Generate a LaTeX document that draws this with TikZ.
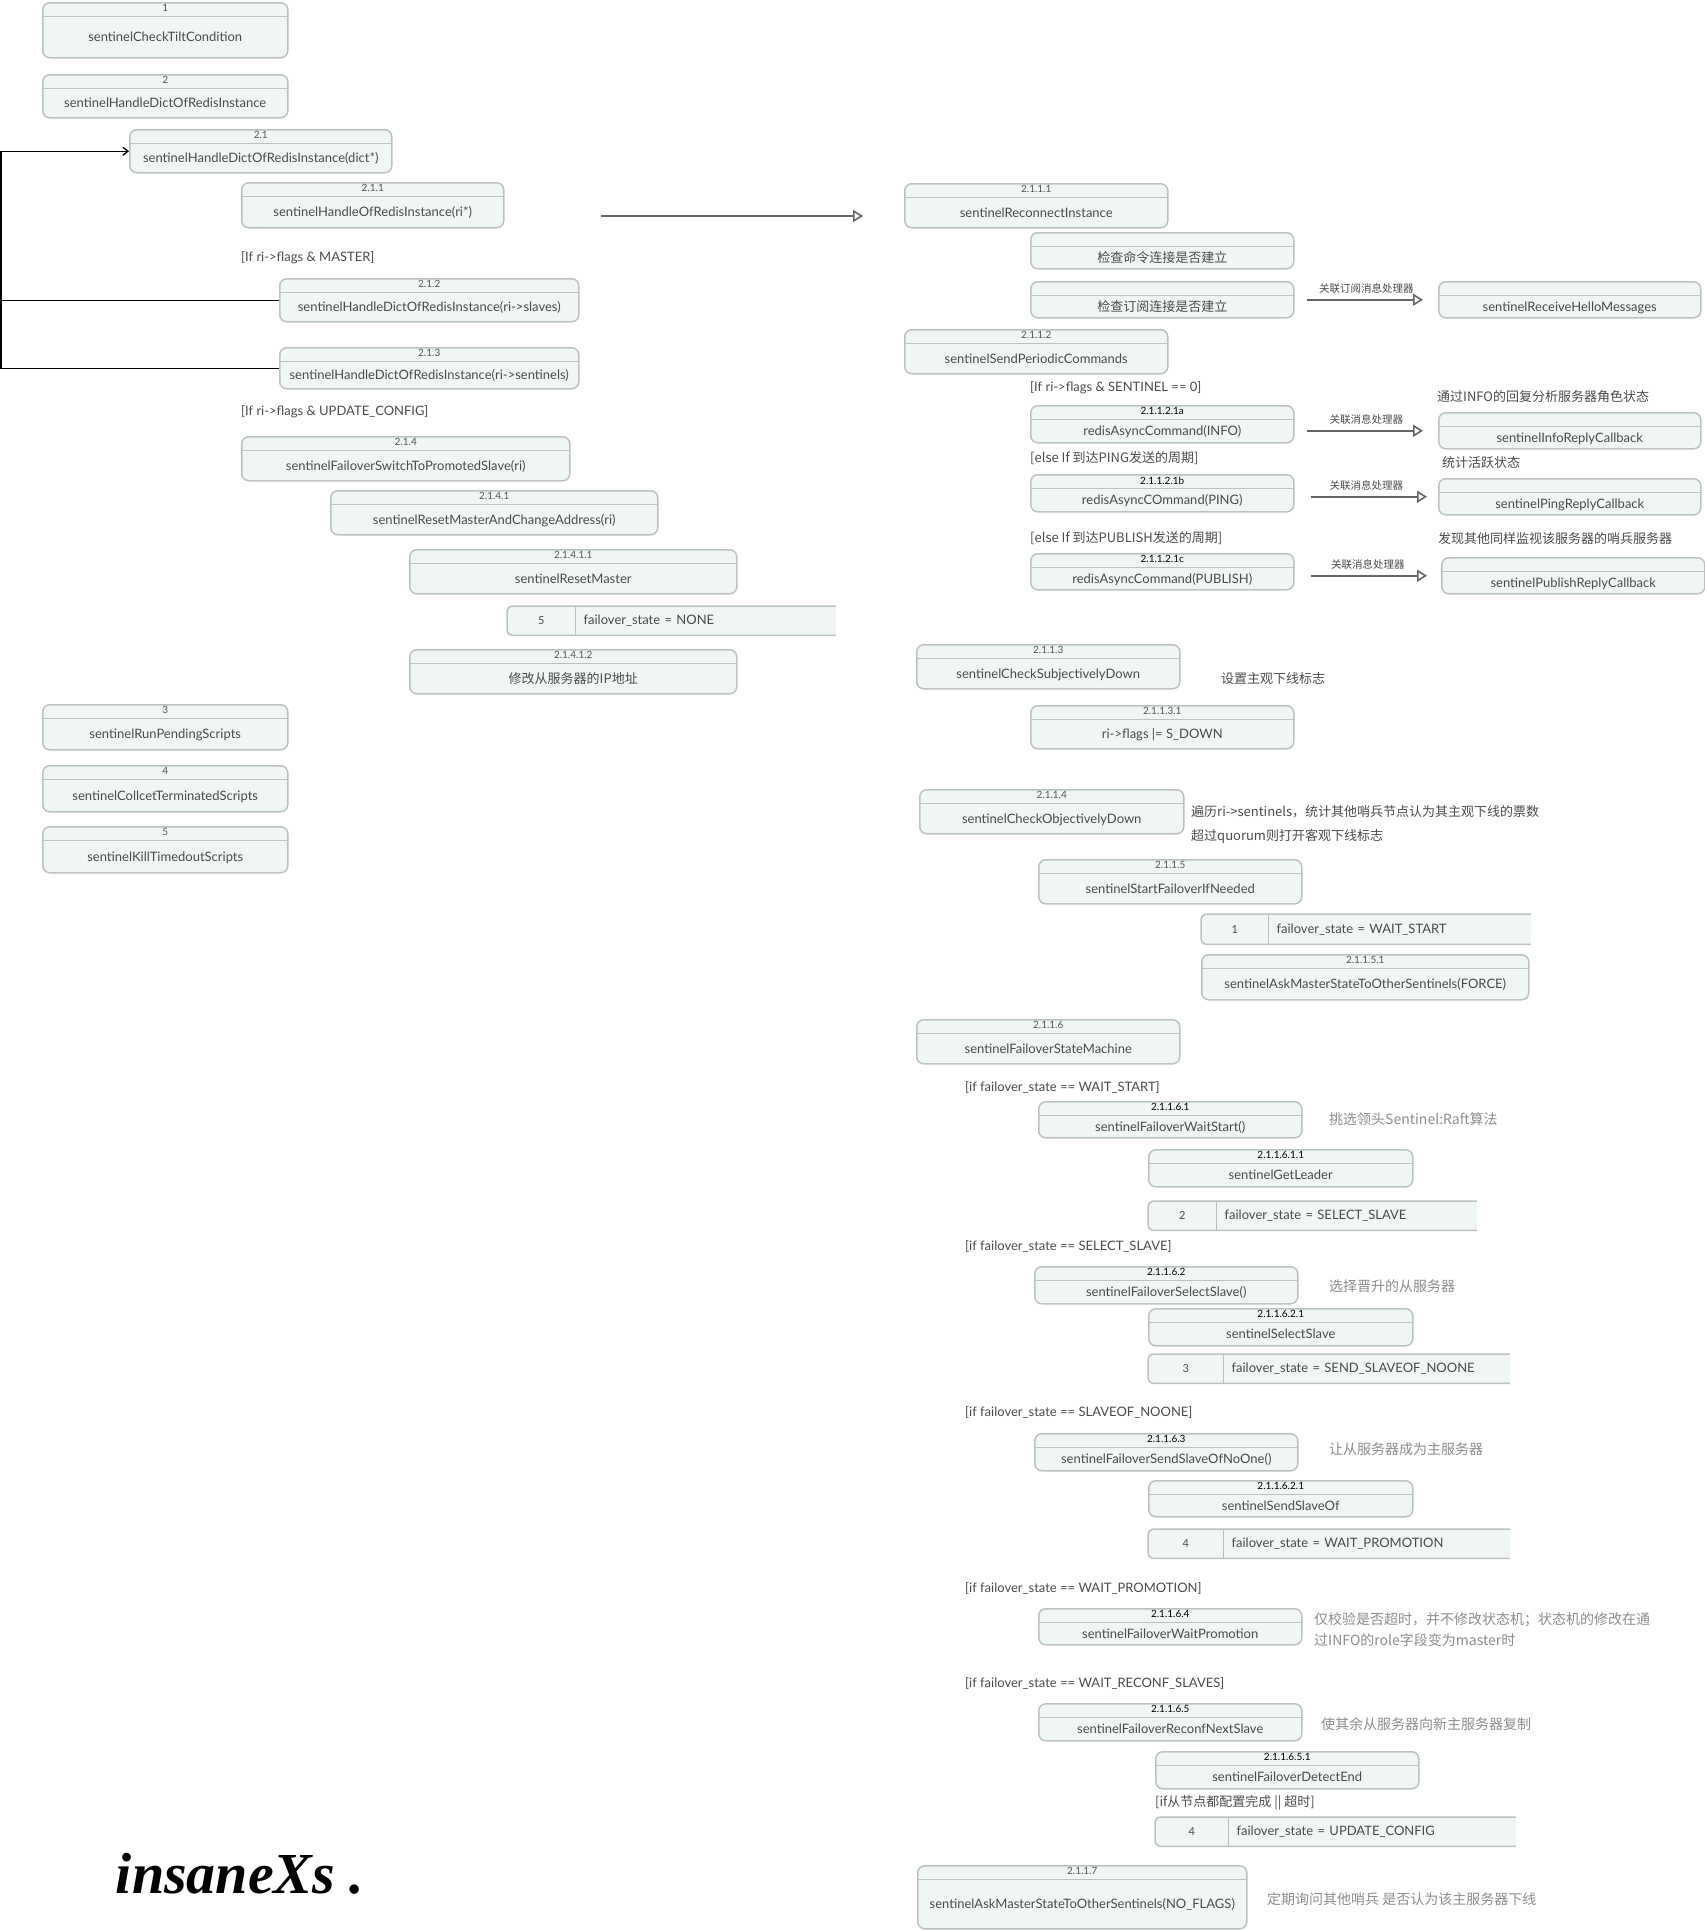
\documentclass[tikz,border=0pt]{standalone}
\usepackage{fontspec}
\setmainfont{Lato}
\newfontfamily\cjk{Noto Sans CJK SC}
\newfontfamily\sigfont{Liberation Serif}
\usepackage{xcolor}
\usetikzlibrary{arrows.meta,positioning}

\definecolor{boxfill}{HTML}{F0F6F6}
\definecolor{boxline}{HTML}{BCC2C2}
\definecolor{txtgray}{HTML}{4A4A4A}
\definecolor{numgray}{HTML}{555555}
\definecolor{notegray}{HTML}{8C8C8C}
\definecolor{arrowgray}{HTML}{666666}

\begin{document}
\begin{tikzpicture}[x=1pt, y=-1pt]
\tikzset{
  callbox/.style={draw=boxline, fill=boxfill, line width=1.5pt, rounded corners=7pt, anchor=north west, inner sep=0pt, text height=23pt, text depth=0pt, font=\fontsize{13}{15}\selectfont, text=txtgray, path picture={\draw[boxline, line width=1.5pt] ([yshift=-13.5pt]path picture bounding box.north west) -- ([yshift=-13.5pt]path picture bounding box.north east);}},
  boxsize/.style 2 args={minimum width=#1pt, minimum height=#2pt},
  numtext/.style={anchor=north, inner sep=0pt, yshift=-2.5pt, font=\fontsize{10}{11}\selectfont, text=numgray},
  numdark/.style={numtext, text=black},
  statenum/.style={anchor=north west, inner sep=0pt, fill=boxfill, font=\fontsize{11}{13}\selectfont, text=txtgray},
  statetxt/.style={inner sep=0pt, inner xsep=8pt, align=left, fill=boxfill, font=\fontsize{13}{15}\selectfont, text=txtgray},
  stateedge/.style={draw=boxline, line width=1.5pt, rounded corners=6pt},
  condtext/.style={anchor=west, inner sep=0pt, font=\fontsize{13}{15}\selectfont, text=txtgray},
  note/.style={anchor=west, inner sep=0pt, font=\cjk\fontsize{13}{15}\selectfont, text=txtgray},
  notelight/.style={note, font=\cjk\fontsize{14}{16}\selectfont, text=notegray},
  flow/.style={draw=arrowgray, line width=1.6pt, -{Triangle[open, length=10pt, width=12pt]}},
  flowlabel/.style={font=\cjk\fontsize{10.5}{12}\selectfont, text=txtgray, inner sep=0pt},
  loopline/.style={draw=black, line width=1.3pt},
  sigtext/.style={font=\sigfont\itshape\bfseries\fontsize{58}{64}\selectfont, text=black}
}
\useasboundingbox (0,0) rectangle (1705,1930);

\node[callbox, boxsize={245}{55}, label={[numtext]north:1}] (b1) at (42,2) {sentinelCheckTiltCondition};
\node[callbox, boxsize={245}{43}, label={[numtext]north:2}] (b2) at (42,74) {sentinelHandleDictOfRedisInstance};
\node[callbox, boxsize={262}{43}, label={[numtext]north:2.1}] (b21) at (129,129) {sentinelHandleDictOfRedisInstance(dict*)};
\node[callbox, boxsize={262}{45}, label={[numtext]north:2.1.1}] (b211) at (241,182) {sentinelHandleOfRedisInstance(ri*)};
\node[condtext] (cmaster) at (241,258) {[If ri->flags \& MASTER]};
\node[callbox, boxsize={299}{43}, label={[numtext]north:2.1.2}] (b212) at (279,278) {sentinelHandleDictOfRedisInstance(ri->slaves)};
\node[callbox, boxsize={299}{41}, label={[numtext]north:2.1.3}] (b213) at (279,347) {sentinelHandleDictOfRedisInstance(ri->sentinels)};
\node[condtext] (cupdate) at (241,412) {[If ri->flags \& UPDATE\_CONFIG]};
\node[callbox, boxsize={328}{44}, label={[numtext]north:2.1.4}] (b214) at (241,436) {sentinelFailoverSwitchToPromotedSlave(ri)};
\node[callbox, boxsize={327}{44}, label={[numtext]north:2.1.4.1}] (b2141) at (330,490) {sentinelResetMasterAndChangeAddress(ri)};
\node[callbox, boxsize={327}{44}, label={[numtext]north:2.1.4.1.1}] (b21411) at (409,549) {sentinelResetMaster};
\node[statenum, boxsize={68}{29}] (s5) at (507,606) {5};
\node[statetxt, text width=244pt, minimum height=29pt, right=0pt of s5] (s5t) {failover\_state = NONE};
\draw[stateedge] (s5t.north east) -- (s5.north west) -- (s5.south west) -- (s5t.south east);
\draw[stateedge] (s5.north east) -- (s5.south east);
\node[callbox, boxsize={327}{44}, label={[numtext]north:2.1.4.1.2}] (b21412) at (409,649) {\cjk 修改从服务器的IP地址};
\node[callbox, boxsize={245}{45}, label={[numtext]north:3}] (b3) at (42,704) {sentinelRunPendingScripts};
\node[callbox, boxsize={245}{46}, label={[numtext]north:4}] (b4) at (42,765) {sentinelCollcetTerminatedScripts};
\node[callbox, boxsize={245}{46}, label={[numtext]north:5}] (b5) at (42,826) {sentinelKillTimedoutScripts};

\coordinate (loopx) at (1,0);
\draw[loopline, -{Straight Barb[length=5pt, width=8pt]}] (b213.west) -- (b213.west -| loopx) |- (b21.west);
\draw[loopline] (b212.west) -- (b212.west -| loopx);
\coordinate (jmpa) at (601,216);
\coordinate (jmpb) at (863,216);
\draw[flow] (jmpa) -- (jmpb);

\node[callbox, boxsize={263}{44}, label={[numtext]north:2.1.1.1}] (b2111) at (904,183) {sentinelReconnectInstance};
\node[callbox, boxsize={263}{36}] (chk1) at (1030,232) {\cjk 检查命令连接是否建立};
\node[callbox, boxsize={263}{36}] (chk2) at (1030,281) {\cjk 检查订阅连接是否建立};
\node[callbox, boxsize={262}{36}] (hello) at (1438,281) {sentinelReceiveHelloMessages};
\draw[flow, shorten <=12pt, shorten >=15pt] (chk2.east) -- node[flowlabel, above=6pt] (l1) {关联订阅消息处理器} (hello.west);
\node[callbox, boxsize={263}{44}, label={[numtext]north:2.1.1.2}] (b2112) at (904,329) {sentinelSendPeriodicCommands};
\node[condtext] (csentinel) at (1030,388) {[If ri->flags \& SENTINEL == 0]};
\node[note] (ninfo) at (1437,397) {通过INFO的回复分析服务器角色状态};
\node[callbox, boxsize={263}{37}, label={[numdark]north:2.1.1.2.1a}] (b21121a) at (1030,405) {redisAsyncCommand(INFO)};
\node[callbox, boxsize={262}{36}] (info) at (1438,412) {sentinelInfoReplyCallback};
\draw[flow, shorten <=12pt, shorten >=15pt] (b21121a.east |- info.west) -- node[flowlabel, above=6pt] (l2) {关联消息处理器} (info.west);
\node[condtext] (cping) at (1030,458) {\cjk [else If 到达PING发送的周期]};
\node[note] (nping) at (1442,463) {统计活跃状态};
\node[callbox, boxsize={263}{37}, label={[numdark]north:2.1.1.2.1b}] (b21121b) at (1030,474) {redisAsyncCOmmand(PING)};
\node[callbox, boxsize={262}{36}] (ping) at (1438,478) {sentinelPingReplyCallback};
\draw[flow, shorten <=16pt, shorten >=11pt] (b21121b.east |- ping.west) -- node[flowlabel, above=6pt] (l3) {关联消息处理器} (ping.west);
\node[condtext] (cpub) at (1030,538) {\cjk [else If 到达PUBLISH发送的周期]};
\node[note] (npub) at (1438,539) {发现其他同样监视该服务器的哨兵服务器};
\node[callbox, boxsize={263}{36}, label={[numdark]north:2.1.1.2.1c}] (b21121c) at (1030,553) {redisAsyncCommand(PUBLISH)};
\node[callbox, boxsize={263}{36}] (publish) at (1441,557) {sentinelPublishReplyCallback};
\draw[flow, shorten <=16pt, shorten >=14pt] (b21121c.east |- publish.west) -- node[flowlabel, above=6pt] (l4) {关联消息处理器} (publish.west);

\node[callbox, boxsize={263}{44}, label={[numtext]north:2.1.1.3}] (b2113) at (916,644) {sentinelCheckSubjectivelyDown};
\node[note] (nsdown) at (1221,679) {设置主观下线标志};
\node[callbox, boxsize={263}{43}, label={[numtext]north:2.1.1.3.1}] (b21131) at (1030,705) {ri->flags |= S\_DOWN};
\node[callbox, boxsize={264}{44}, label={[numtext]north:2.1.1.4}] (b2114) at (919,789) {sentinelCheckObjectivelyDown};
\node[note] (nodown) at (1191,812) {遍历ri->sentinels，统计其他哨兵节点认为其主观下线的票数};
\node[note] (nquorum) at (1191,836) {超过quorum则打开客观下线标志};
\node[callbox, boxsize={263}{44}, label={[numtext]north:2.1.1.5}] (b2115) at (1038,859) {sentinelStartFailoverIfNeeded};
\node[statenum, boxsize={67}{30}] (s1) at (1201,914) {1};
\node[statetxt, text width=246pt, minimum height=30pt, right=0pt of s1] (s1t) {failover\_state = WAIT\_START};
\draw[stateedge] (s1t.north east) -- (s1.north west) -- (s1.south west) -- (s1t.south east);
\draw[stateedge] (s1.north east) -- (s1.south east);
\node[callbox, boxsize={327}{45}, label={[numtext]north:2.1.1.5.1}] (b21151) at (1201,954) {sentinelAskMasterStateToOtherSentinels(FORCE)};

\node[callbox, boxsize={263}{44}, label={[numtext]north:2.1.1.6}] (b2116) at (916,1019) {sentinelFailoverStateMachine};
\node[condtext] (cws) at (965,1087) {[if failover\_state == WAIT\_START]};
\node[callbox, boxsize={263}{36}, label={[numdark]north:2.1.1.6.1}] (b21161) at (1038,1101) {sentinelFailoverWaitStart()};
\node[notelight] (nraft) at (1329,1119) {挑选领头Sentinel:Raft算法};
\node[callbox, boxsize={264}{37}, label={[numdark]north:2.1.1.6.1.1}] (b211611) at (1148,1149) {sentinelGetLeader};
\node[statenum, boxsize={68}{29}] (s2) at (1148,1201) {2};
\node[statetxt, text width=244pt, minimum height=29pt, right=0pt of s2] (s2t) {failover\_state = SELECT\_SLAVE};
\draw[stateedge] (s2t.north east) -- (s2.north west) -- (s2.south west) -- (s2t.south east);
\draw[stateedge] (s2.north east) -- (s2.south east);
\node[condtext] (css) at (965,1246) {[if failover\_state == SELECT\_SLAVE]};
\node[callbox, boxsize={263}{37}, label={[numdark]north:2.1.1.6.2}] (b21162) at (1034,1266) {sentinelFailoverSelectSlave()};
\node[notelight] (nselect) at (1329,1286) {选择晋升的从服务器};
\node[callbox, boxsize={264}{37}, label={[numdark]north:2.1.1.6.2.1}] (b211621) at (1148,1308) {sentinelSelectSlave};
\node[statenum, boxsize={75}{29}] (s3) at (1148,1354) {3};
\node[statetxt, text width=270pt, minimum height=29pt, right=0pt of s3] (s3t) {failover\_state = SEND\_SLAVEOF\_NOONE};
\draw[stateedge] (s3t.north east) -- (s3.north west) -- (s3.south west) -- (s3t.south east);
\draw[stateedge] (s3.north east) -- (s3.south east);
\node[condtext] (csn) at (965,1412) {[if failover\_state == SLAVEOF\_NOONE]};
\node[callbox, boxsize={263}{37}, label={[numdark]north:2.1.1.6.3}] (b21163) at (1034,1433) {sentinelFailoverSendSlaveOfNoOne()};
\node[notelight] (nmaster) at (1329,1449) {让从服务器成为主服务器};
\node[callbox, boxsize={264}{36}, label={[numdark]north:2.1.1.6.2.1}] (b211631) at (1148,1480) {sentinelSendSlaveOf};
\node[statenum, boxsize={75}{29}] (s4) at (1148,1529) {4};
\node[statetxt, text width=270pt, minimum height=29pt, right=0pt of s4] (s4t) {failover\_state = WAIT\_PROMOTION};
\draw[stateedge] (s4t.north east) -- (s4.north west) -- (s4.south west) -- (s4t.south east);
\draw[stateedge] (s4.north east) -- (s4.south east);
\node[condtext] (cwp) at (965,1588) {[if failover\_state == WAIT\_PROMOTION]};
\node[callbox, boxsize={263}{36}, label={[numdark]north:2.1.1.6.4}] (b21164) at (1038,1608) {sentinelFailoverWaitPromotion};
\node[notelight] (nwait1) at (1314,1620) {仅校验是否超时，并不修改状态机；状态机的修改在通};
\node[notelight] (nwait2) at (1314,1640) {过INFO的role字段变为master时};
\node[condtext] (cwr) at (965,1683) {[if failover\_state == WAIT\_RECONF\_SLAVES]};
\node[callbox, boxsize={263}{37}, label={[numdark]north:2.1.1.6.5}] (b21165) at (1038,1703) {sentinelFailoverReconfNextSlave};
\node[notelight] (nreconf) at (1321,1724) {使其余从服务器向新主服务器复制};
\node[callbox, boxsize={263}{37}, label={[numdark]north:2.1.1.6.5.1}] (b211651) at (1155,1751) {sentinelFailoverDetectEnd};
\node[condtext] (cdone) at (1155,1803) {\cjk [if从节点都配置完成 || 超时]};
\node[statenum, boxsize={73}{29}] (s4b) at (1155,1817) {4};
\node[statetxt, text width=271pt, minimum height=29pt, right=0pt of s4b] (s4bt) {failover\_state = UPDATE\_CONFIG};
\draw[stateedge] (s4bt.north east) -- (s4b.north west) -- (s4b.south west) -- (s4bt.south east);
\draw[stateedge] (s4b.north east) -- (s4b.south east);
\node[callbox, boxsize={329}{63}, label={[numtext]north:2.1.1.7}] (b2117) at (917,1865) {sentinelAskMasterStateToOtherSentinels(NO\_FLAGS)};
\node[notelight] (nask) at (1267,1899) {定期询问其他哨兵 是否认为该主服务器下线};

\node[sigtext] (sig) at (240,1874) {insaneXs .};
\end{tikzpicture}
\end{document}
